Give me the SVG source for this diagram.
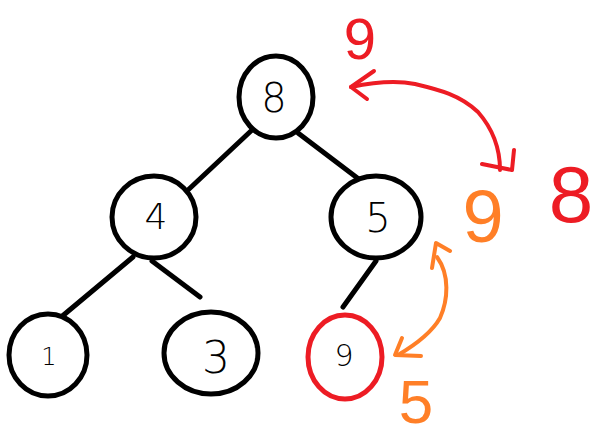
<svg xmlns="http://www.w3.org/2000/svg" width="602" height="442" viewBox="0 0 602 442">
<style>
.node{fill:#fff;stroke:#000;stroke-width:5}
.hot{stroke:#ed1c24}
.edge{stroke:#000;stroke-width:5;stroke-linecap:round;fill:none}
.lbl{font-family:"DejaVu Sans",sans-serif;font-weight:200;fill:#000;text-anchor:middle}
.red{fill:none;stroke:#ed1c24;stroke-width:4;stroke-linecap:round;stroke-linejoin:round}
.org{fill:none;stroke:#ff7f27;stroke-width:4;stroke-linecap:round;stroke-linejoin:round}
.note{font-family:"Liberation Sans",sans-serif;text-anchor:middle}
</style>
<rect width="602" height="442" fill="#fff"/>
<g id="connectors">
<line class="edge" x1="252" y1="130" x2="188" y2="190"/>
<line class="edge" x1="298" y1="133" x2="360" y2="180"/>
<line class="edge" x1="133" y1="257" x2="60" y2="318"/>
<line class="edge" x1="152" y1="261" x2="200" y2="297"/>
<line class="edge" x1="376" y1="261" x2="343" y2="307"/>
</g>
<g id="n8"><ellipse class="node" cx="276" cy="97" rx="37" ry="41"/><text class="lbl" x="274" y="112" font-size="40">8</text></g>
<g id="n4"><ellipse class="node" cx="154" cy="217" rx="42" ry="41"/><text class="lbl" x="156" y="229" font-size="36">4</text></g>
<g id="n5"><ellipse class="node" cx="376" cy="217" rx="45" ry="41"/><text class="lbl" x="378" y="232" font-size="40">5</text></g>
<g id="n1"><ellipse class="node" cx="48" cy="355" rx="39" ry="41"/><text class="lbl" x="49" y="365" font-size="24">1</text></g>
<g id="n3"><ellipse class="node" cx="211" cy="353" rx="47" ry="41"/><text class="lbl" x="216" y="373" font-size="44">3</text></g>
<g id="n9"><ellipse class="node hot" cx="345" cy="357" rx="37" ry="42"/><text class="lbl" x="344" y="366" font-size="30">9</text></g>
<g id="annotations">
<text class="note" x="360" y="59" font-size="58" fill="#ed1c24">9</text>
<path class="red" d="M351,87 C370,83 395,80 415,84 C440,90 460,95 478,112 C492,128 500,148 500,170"/>
<path class="red" d="M374,71 L351,87 L367,99"/>
<path class="red" d="M482,164 L512,170 L514,150"/>
<text class="note" x="571" y="222" font-size="80" fill="#ed1c24">8</text>
<text class="note" x="483" y="242" font-size="74" fill="#ff7f27">9</text>
<path class="org" d="M437,257 C450,275 448,300 440,318 C432,332 415,345 398,355"/>
<path class="org" d="M450,251 L436,243 L432,268"/>
<path class="org" d="M402,338 L395,355 L421,356"/>
<text class="note" x="416" y="423" font-size="62" fill="#ff7f27">5</text>
</g>
</svg>
